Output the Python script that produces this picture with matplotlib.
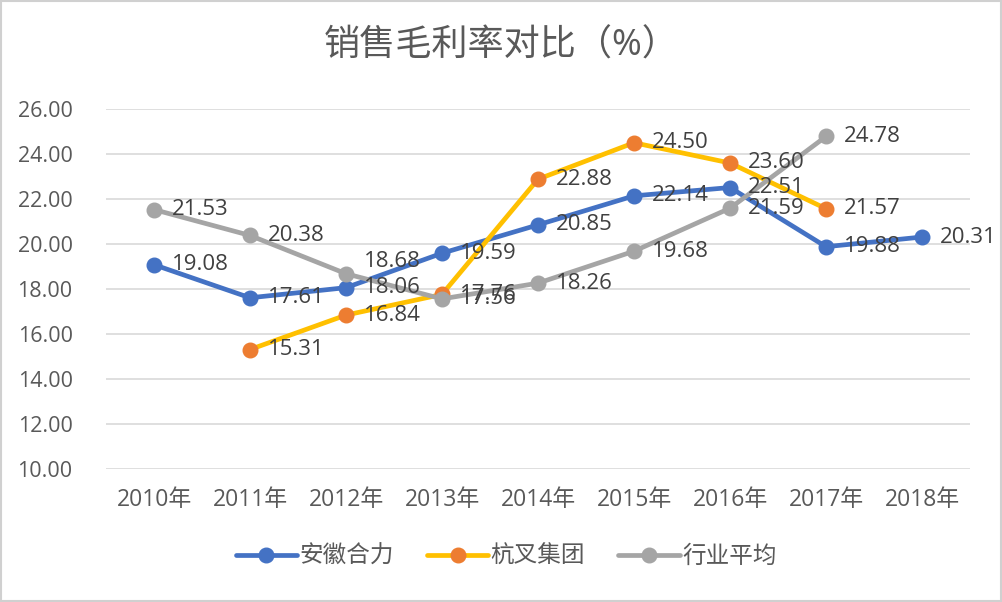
import matplotlib
matplotlib.use("Agg")
import matplotlib.pyplot as plt
import numpy as np

plt.rcParams['font.family'] = ['Open Sans', 'Noto Sans CJK SC', 'DejaVu Sans']

years = ["2010年", "2011年", "2012年", "2013年", "2014年", "2015年", "2016年", "2017年", "2018年"]
heli = [19.08, 17.61, 18.06, 19.59, 20.85, 22.14, 22.51, 19.88, 20.31]
hangcha = [None, 15.31, 16.84, 17.76, 22.88, 24.50, 23.60, 21.57, None]
industry = [21.53, 20.38, 18.68, 17.56, 18.26, 19.68, 21.59, 24.78, None]
names = ["安徽合力", "杭叉集团", "行业平均"]
yticks = [10, 12, 14, 16, 18, 20, 22, 24, 26]

fig = plt.figure(figsize=(10.02, 6.02), dpi=100)
ax = fig.add_axes([106/1002, 1-469/602, 864/1002, 360/602])
x = np.arange(len(years))

def series(vals):
    xs = [i for i, v in enumerate(vals) if v is not None]
    ys = [v for v in vals if v is not None]
    return xs, ys

txtc = '#404040'
specs = [(heli, '#4472C4', '#4472C4'), (hangcha, '#FFC000', '#ED7D31'), (industry, '#A5A5A5', '#A5A5A5')]
handles = []
for (vals, lc, mc), nm in zip(specs, names):
    xs, ys = series(vals)
    h, = ax.plot(xs, ys, color=lc, lw=3.4, marker='o', ms=10.5, mfc=mc, mec=mc, label=nm,
                 solid_capstyle='round', zorder=3)
    handles.append(h)
    for xi, yi in zip(xs, ys):
        dy = 0
        if vals is industry and xi == 2:
            dy = 9
        ax.annotate(f"{yi:.2f}", (xi, yi), xytext=(13, dy), textcoords='offset points',
                    va='center', ha='left', fontsize=16, color=txtc, zorder=4)

ax.set_xlim(-0.5, len(years) - 0.5)
ax.set_ylim(10, 26)
ax.set_yticks(yticks)
ax.set_yticklabels([f"{v:.2f}" for v in yticks])
ax.set_xticks(x)
ax.set_xticklabels(years)
ax.tick_params(axis='both', length=0, labelcolor='#595959')
ax.tick_params(axis='y', pad=24, labelsize=15.5)
ax.tick_params(axis='x', pad=14, labelsize=16.5)
ax.grid(axis='y', color='#D9D9D9', lw=1.2)
ax.set_axisbelow(True)
for s in ax.spines.values():
    s.set_visible(False)

fig.text(0.5, 1-47/602, "销售毛利率对比（%）", ha='center', va='center', fontsize=26,
         color='#595959')

leg = fig.legend(handles=handles, loc='center', bbox_to_anchor=(0.505, 1-557/602), ncol=3,
                 frameon=False, fontsize=17, handlelength=2.6, columnspacing=1.4,
                 handletextpad=0.1)
for t in leg.get_texts():
    t.set_color('#595959')

fig.patches.append(plt.Rectangle((0.001, 0.001), 0.998, 0.998, transform=fig.transFigure,
                                 fill=False, ec='#D0D0D0', lw=1.5))
fig.savefig("out.png", dpi=100)
